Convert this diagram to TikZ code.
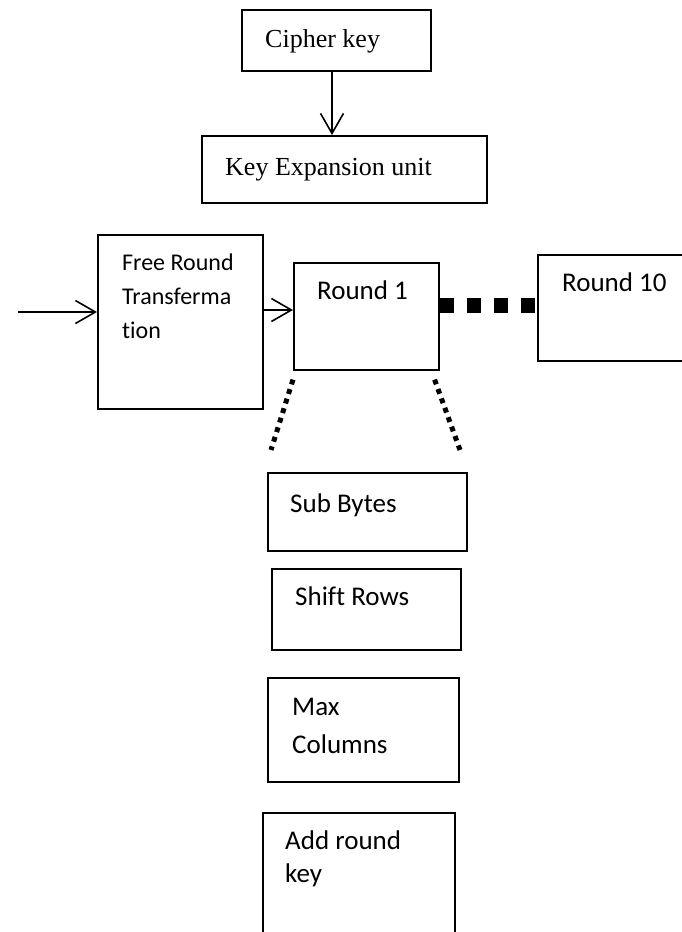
\documentclass[tikz,border=0pt]{standalone}
\usepackage{fontspec}
\setmainfont{Liberation Serif}
\newfontfamily\calib[Ligatures=NoCommon]{Carlito}
\usetikzlibrary{arrows.meta}

\begin{document}
\begin{tikzpicture}[x=1pt, y=-1pt,
  box/.style={draw, line width=1.6pt, inner sep=0pt, anchor=north west},
  serif/.style={font=\fontsize{26}{30}\selectfont, anchor=base west, inner sep=0pt},
  sans/.style={font=\calib\fontsize{27}{34}\selectfont, anchor=base west,
    inner sep=0pt, align=left},
  arr/.style={-{Straight Barb[length=20pt, width=23pt]}, line width=1.6pt},
  bigdash/.style={line width=15pt, dash pattern=on 14pt off 13pt},
  dots/.style={line width=5pt, dash pattern=on 5pt off 5pt}
]
  \useasboundingbox (0,0) rectangle (681,932);

  % key schedule
  \node[box, minimum width=189pt, minimum height=61pt] (cipher) at (241,9) {};
  \node[serif] (cipherT) at (265,47) {Cipher key};
  \node[box, minimum width=285pt, minimum height=67pt] (keyexp) at (201,135) {};
  \node[serif] (keyexpT) at (225,175) {Key Expansion unit};

  % rounds (multi-line labels sit on their last line)
  \node[box, minimum width=165pt, minimum height=174pt] (free) at (97,234) {};
  \node[sans, font=\calib\fontsize{24}{34}\selectfont] (freeT) at (122,338)
    {Free Round\\Transferma\\tion};
  \node[box, minimum width=145pt, minimum height=107pt] (r1) at (293,262) {};
  \node[sans] (r1T) at (317,299) {Round 1};
  \node[box, minimum width=150pt, minimum height=106pt] (r10) at (537,254) {};
  \node[sans] (r10T) at (562,291) {Round 10};

  % steps of one round
  \node[box, minimum width=199pt, minimum height=78pt] (sub) at (267,472) {};
  \node[sans] (subT) at (290,512) {Sub Bytes};
  \node[box, minimum width=189pt, minimum height=81pt] (shift) at (271,568) {};
  \node[sans] (shiftT) at (295,605) {Shift Rows};
  \node[box, minimum width=191pt, minimum height=104pt] (mix) at (267,677) {};
  \node[sans, font=\calib\fontsize{27}{38}\selectfont] (mixT) at (292,753)
    {Max\\Columns};
  \node[box, minimum width=192pt, minimum height=130pt] (add) at (262,812) {};
  \node[sans, font=\calib\fontsize{27}{33}\selectfont] (addT) at (285,882)
    {Add round\\key};

  \coordinate (in) at (18,312);
  \coordinate (dl) at (271,450);
  \coordinate (dr) at (460,450);

  \draw[arr] (cipher.south -| 332,0) -- (keyexp.north -| 332,0);
  \draw[arr] (in) -- (in -| free.west);
  \draw[arr] (free.east |- 0,310) -- (r1.west |- 0,310);
  \draw[bigdash] (r1.east |- 0,305) -- (r10.west |- 0,305);
  \draw[dots] ([yshift=-9pt]r1.south west) -- (dl);
  \draw[dots] ([xshift=-5pt, yshift=-9pt]r1.south east) -- (dr);
\end{tikzpicture}
\end{document}
